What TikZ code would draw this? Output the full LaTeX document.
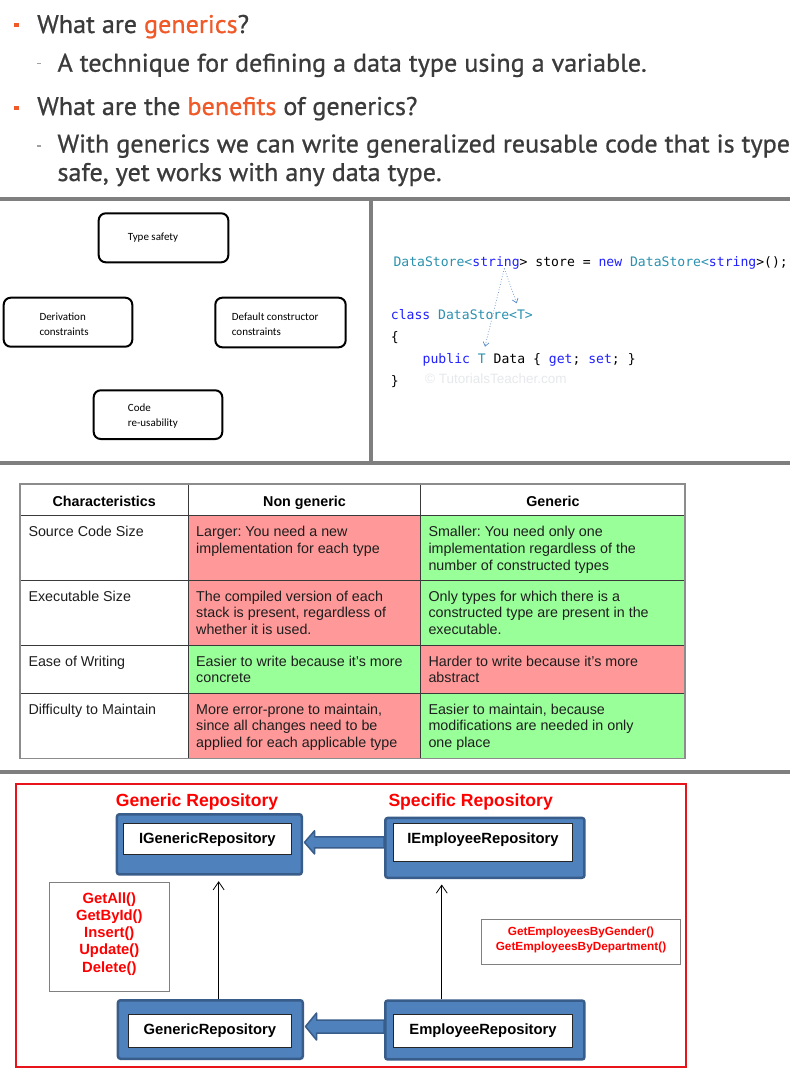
\documentclass[tikz,border=0pt]{standalone}
\usepackage{fontspec}
\setmainfont{Liberation Sans}
\newfontfamily\slidefont[FakeStretch=1.025,FakeBold=0.8]{PT Sans}
\newfontfamily\calfont{Carlito}
\newfontfamily\codefont{DejaVu Sans Mono}
\usetikzlibrary{arrows.meta,calc}
\frenchspacing

\definecolor{sepgray}{HTML}{7F7F7F}
\definecolor{psorange}{HTML}{F05A28}
\definecolor{slidetext}{HTML}{3B3B3B}
\definecolor{dashgray}{HTML}{A0A0A0}
\definecolor{codeteal}{HTML}{2B91AF}
\definecolor{codeblue}{HTML}{1F1FFF}
\definecolor{linkblue}{HTML}{5A8AC6}
\definecolor{wmgray}{HTML}{E6E9EC}
\definecolor{cellred}{HTML}{FF9999}
\definecolor{cellgreen}{HTML}{99FF99}
\definecolor{gridline}{HTML}{3A3A3A}
\definecolor{gridouter}{HTML}{8C8C8C}
\definecolor{tabletext}{HTML}{1E1E1E}
\definecolor{repred}{HTML}{FF0000}
\definecolor{framered}{HTML}{E8141C}
\definecolor{boxblue}{HTML}{4F81BD}
\definecolor{boxblueline}{HTML}{385D8A}
\definecolor{methodgray}{HTML}{808080}

\begin{document}
\begin{tikzpicture}[x=1pt,y=-1pt,
  sep/.style={draw=sepgray, line width=4},
  slideline/.style={font=\slidefont\fontsize{25.5}{30}\selectfont, text=slidetext, inner sep=0},
  slidebullet/.style={fill=psorange, minimum size=4.5, inner sep=0},
  slidedash/.style={draw=dashgray, line width=1.2},
  featbox/.style={draw=black, line width=2, rounded corners=7, inner sep=0},
  feattext/.style={font=\calfont\fontsize{11}{15}\selectfont, inner sep=0, align=left},
  codeline/.style={font=\codefont\fontsize{13.1}{22}\selectfont, inner sep=0},
  watermark/.style={font=\fontsize{13.5}{16}\selectfont, text=wmgray, inner sep=0},
  codelink/.style={draw=linkblue, line width=0.7, dotted, -{Straight Barb[length=4,width=6]}},
  tabletext/.style={font=\fontsize{14.3}{16.8}\selectfont, text=tabletext, inner sep=0, align=left},
  tablehead/.style={font=\bfseries\fontsize{14.3}{16.8}\selectfont, text=black, inner sep=0},
  reptitle/.style={font=\bfseries\fontsize{17.6}{20}\selectfont, text=repred, inner sep=0},
  repouter/.style={draw=boxblueline, fill=boxblue, line width=2.5, rounded corners=2.5, inner sep=0},
  repinner/.style={draw=black!85, fill=white, line width=0.8, inner sep=0, font=\bfseries\fontsize{14.8}{17}\selectfont},
  blockarrow/.style={draw=boxblueline, fill=boxblue, line width=1.5, line join=round},
  inherit/.style={draw=black, line width=0.8, -{Straight Barb[length=8,width=11]}},
  methodbox/.style={draw=methodgray, line width=1, fill=white, inner sep=0},
  methodtext/.style={text=repred, inner sep=0, align=center}
]
\useasboundingbox (0,0) rectangle (790,1078);
\fill[white] (0,0) rectangle (790,1078);

% ---------- slide text ----------
\node[slidebullet] (b1) at (16.5,25) {};
\node[slideline, anchor=base west] (q1) at (37,33) {What are \textcolor{psorange}{generics}?};
\draw[slidedash] (37,63.3) -- (41,63.3);
\node[slideline, anchor=base west] (a1) at (57.3,71.7) {A technique for defining a data type using a variable.};
\node[slidebullet] (b2) at (16.5,108) {};
\node[slideline, anchor=base west] (q2) at (37,115) {What are the \textcolor{psorange}{benefits} of generics?};
\draw[slidedash] (37,146) -- (41,146);
\node[slideline, anchor=base west] (a2) at (57.3,152.5) {With generics we can write generalized reusable code that is type};
\node[slideline, anchor=base west] (a3) at (57.3,181) {safe, yet works with any data type.};

% ---------- separators ----------
\draw[sep] (0,199) -- (790,199);
\draw[sep] (371,199) -- (371,462.5);
\draw[sep] (0,462.5) -- (790,462.5);
\draw[sep] (0,772) -- (790,772);

% ---------- feature boxes ----------
\node[featbox, minimum width=129.6, minimum height=49] (ts) at (163.5,237.8) {};
\node[feattext, anchor=base west] (tst) at (127.7,240.8) {Type safety};
\node[featbox, minimum width=128.6, minimum height=49] (dc) at (68,322.2) {};
\node[feattext, anchor=north west] (dct) at (39.3,310) {\strut Derivation\\constraints};
\node[featbox, minimum width=130.4, minimum height=49.6] (dcc) at (280.5,322.5) {};
\node[feattext, anchor=north west] (dcct) at (231.7,310) {\strut Default constructor\\constraints};
\node[featbox, minimum width=128.6, minimum height=48.7] (cr) at (158,414.65) {};
\node[feattext, anchor=north west] (crt) at (127.7,400.3) {\strut Code\\re-usability};

% ---------- code ----------
\node[codeline, anchor=base west] (c1) at (393.3,266.7) {\textcolor{codeteal}{DataStore<}\textcolor{codeblue}{string}> store = \textcolor{codeblue}{new} \textcolor{codeteal}{DataStore<}\textcolor{codeblue}{string}>();};
\node[codeline, anchor=base west] (c2) at (390.7,319.3) {\textcolor{codeblue}{class} \textcolor{codeteal}{DataStore<T>}};
\node[codeline, anchor=base west] (c3) at (390.7,341.3) {\{};
\node[codeline, anchor=base west] (c4) at (422.5,363.3) {\textcolor{codeblue}{public} \textcolor{codeteal}{T} Data \{ \textcolor{codeblue}{get}; \textcolor{codeblue}{set}; \}};
\node[codeline, anchor=base west] (c5) at (390.7,385.3) {\}};
\node[watermark, anchor=base west] (wm) at (425,383.5) {© TutorialsTeacher.com};
\coordinate (cs) at (504.3,268.5);
\coordinate (ct1) at (516.7,303.3);
\coordinate (ct2) at (485,346.7);
\draw[codelink] (cs) -- (ct1);
\draw[codelink] (cs) -- (ct2);

% ---------- table ----------
\fill[cellred] (188.3,515.7) rectangle (420.7,645.3);
\fill[cellgreen] (188.3,645.3) rectangle (420.7,693.3);
\fill[cellred] (188.3,693.3) rectangle (420.7,758.3);
\fill[cellgreen] (420.7,515.7) rectangle (685,645.3);
\fill[cellred] (420.7,645.3) rectangle (685,693.3);
\fill[cellgreen] (420.7,693.3) rectangle (685,758.3);
\foreach \yy in {515.7,580.3,645.3,693.3} \draw[gridline, line width=1.2] (20,\yy) -- (685,\yy);
\foreach \xx in {188.3,420.7} \draw[gridline, line width=1.2] (\xx,484) -- (\xx,758.3);
\draw[gridouter, line width=1.5] (20,484) rectangle (685,758.3);

\node[tablehead, anchor=base] (h1) at (104.2,506) {Characteristics};
\node[tablehead, anchor=base] (h2) at (304.5,506) {Non generic};
\node[tablehead, anchor=base] (h3) at (552.9,506) {Generic};

\node[tabletext, anchor=north west] (r1a) at (28.3,524.6) {\strut Source Code Size};
\node[tabletext, anchor=north west] (r1b) at (196,524.6) {\strut Larger: You need a new\\implementation for each type};
\node[tabletext, anchor=north west] (r1c) at (428.3,524.6) {\strut Smaller: You need only one\\implementation regardless of the\\number of constructed types};
\node[tabletext, anchor=north west] (r2a) at (28.3,589.2) {\strut Executable Size};
\node[tabletext, anchor=north west] (r2b) at (196,589.2) {\strut The compiled version of each\\stack is present, regardless of\\whether it is used.};
\node[tabletext, anchor=north west] (r2c) at (428.3,589.2) {\strut Only types for which there is a\\constructed type are present in the\\executable.};
\node[tabletext, anchor=north west] (r3a) at (28.3,654.2) {\strut Ease of Writing};
\node[tabletext, anchor=north west] (r3b) at (196,654.2) {\strut Easier to write because it’s more\\concrete};
\node[tabletext, anchor=north west] (r3c) at (428.3,654.2) {\strut Harder to write because it’s more\\abstract};
\node[tabletext, anchor=north west] (r4a) at (28.3,702.2) {\strut Difficulty to Maintain};
\node[tabletext, anchor=north west] (r4b) at (196,702.2) {\strut More error-prone to maintain,\\since all changes need to be\\applied for each applicable type};
\node[tabletext, anchor=north west] (r4c) at (428.3,702.2) {\strut Easier to maintain, because\\modifications are needed in only\\one place};

% ---------- repository diagram ----------
\draw[framered, line width=2] (16,784.3) rectangle (685.7,1066.7);
\node[reptitle, anchor=base west] (gt) at (115.7,806) {Generic Repository};
\node[reptitle, anchor=base west] (st) at (388.3,806) {Specific Repository};

\node[repouter, minimum width=184.8, minimum height=60.2] (igrO) at (209.35,844.35) {};
\node[repouter, minimum width=199.2, minimum height=59.8] (ierO) at (484.85,847.85) {};
\node[repouter, minimum width=184.8, minimum height=58.5] (grO) at (210.35,1029.5) {};
\node[repouter, minimum width=199.2, minimum height=58.9] (erO) at (484.85,1030) {};

\node[repinner, minimum width=168.7, text height=20.5, text depth=10.5] (igrI) at (207.35,838.5) {IGenericRepository};
\node[repinner, minimum width=179.4, text height=20.2, text depth=18.2] (ierI) at (483,842.5) {IEmployeeRepository};
\node[repinner, minimum width=163.7, text height=20.5, text depth=12.5] (grI) at (209.85,1030.5) {GenericRepository};
\node[repinner, minimum width=179.4, text height=20.5, text depth=12.5] (erI) at (483,1030.5) {EmployeeRepository};

\coordinate (tipA) at ($(igrO.east)+(1.5,-2)$);
\draw[blockarrow] (tipA) -- ++(10,-11.6) -- ++(0,6.1) -- ($(tipA -| ierO.west)+(0,-5.5)$) -- ($(tipA -| ierO.west)+(0,5.5)$) -- ($(tipA)+(10,5.5)$) -- ($(tipA)+(10,11.6)$) -- cycle;
\coordinate (tipB) at ($(grO.east)+(1.5,-3)$);
\draw[blockarrow] (tipB) -- ++(11,-13.5) -- ++(0,7) -- ($(tipB -| erO.west)+(0,-6.5)$) -- ($(tipB -| erO.west)+(0,6.5)$) -- ($(tipB)+(11,6.5)$) -- ($(tipB)+(11,13.5)$) -- cycle;

\draw[inherit] ($(grO.north)+(8.3,0)$) -- ($(grO.north |- igrO.south)+(8.3,5.5)$);
\draw[inherit] ($(erO.north)+(-43.1,0)$) -- ($(erO.north |- ierO.south)+(-43.1,5.5)$);

\node[methodbox, minimum width=120.3, minimum height=108.7] (mb) at (109.65,936.85) {};
\node[methodtext, font=\bfseries\fontsize{14.8}{17.25}\selectfont, anchor=north] (mt) at (109.3,890.9) {\strut GetAll()\\GetById()\\Insert()\\Update()\\Delete()};
\node[methodbox, minimum width=198.4, minimum height=45.3] (emb) at (581,942.15) {};
\node[methodtext, font=\bfseries\fontsize{11.8}{14.7}\selectfont, anchor=north] (emt) at (581,924.9) {\strut GetEmployeesByGender()\\GetEmployeesByDepartment()};
\end{tikzpicture}
\end{document}
